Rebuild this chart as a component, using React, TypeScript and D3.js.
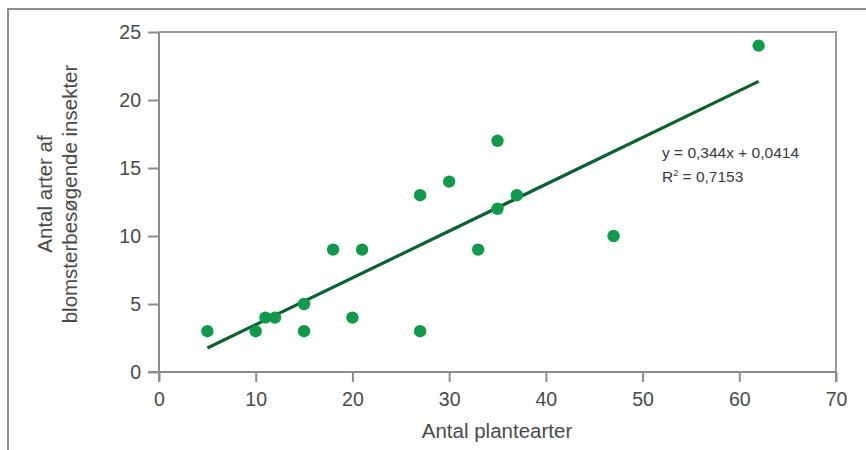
import React, { useEffect, useRef } from 'react';
import * as d3 from 'd3';

// plant species count vs. flower-visiting insect species count
const plantSpecies = [5, 10, 11, 12, 15, 15, 18, 20, 21, 27, 27, 30, 33, 35, 35, 37, 47, 62];
const insectSpecies = [3, 3, 4, 4, 5, 3, 9, 4, 9, 13, 3, 14, 9, 17, 12, 13, 10, 24];
const xTicks = [0, 10, 20, 30, 40, 50, 60, 70];
const yTicks = [0, 5, 10, 15, 20, 25];
const slope = 0.344;
const intercept = 0.0414;
const equationText = 'y = 0,344x + 0,0414';
const rSquaredText = '0,7153';

const FONT = 'Liberation Sans, Arial, sans-serif';

const App = () => {
  const xAxisRef = useRef<SVGGElement>(null);
  const yAxisRef = useRef<SVGGElement>(null);

  const margin = { top: 32, left: 159 };
  const width = 866;
  const height = 450;
  const innerW = 836 - margin.left;
  const innerH = 372 - margin.top;

  const x = d3.scaleLinear().domain([0, 70]).range([0, innerW]);
  const y = d3.scaleLinear().domain([0, 25]).range([innerH, 0]);

  const fitX = [d3.min(plantSpecies)!, d3.max(plantSpecies)!];
  const line = d3
    .line<number>()
    .x((d) => x(d))
    .y((d) => y(slope * d + intercept));

  useEffect(() => {
    const xg = d3.select(xAxisRef.current);
    xg.selectAll('*').remove();
    xg.call(d3.axisBottom(x).tickValues(xTicks).tickSize(10).tickPadding(10).tickSizeOuter(10));
    const yg = d3.select(yAxisRef.current);
    yg.selectAll('*').remove();
    yg.call(d3.axisLeft(y).tickValues(yTicks).tickSize(11).tickPadding(7).tickSizeOuter(0));
    [xg, yg].forEach((g) => {
      g.selectAll('path, line').attr('stroke', '#8c8c8c').attr('stroke-width', 2);
      g.selectAll('text')
        .attr('fill', '#4a4a4a')
        .style('font-family', FONT)
        .style('font-size', '19.5px');
    });
    // x axis line reaches left to meet the y ticks
    xg.select('.domain').attr('d', `M-11,0H${innerW}V10`);
    yg.select('.domain').attr('d', `M0,0V${innerH + 10}`);
  });

  return (
    <svg width={width} height={height} style={{ position: 'absolute', left: 0, top: 0 }}>
      <rect width={width} height={height} fill="#fff" />
      <path d={`M8,${height}V9H${width}`} fill="none" stroke="#6b6b6b" strokeWidth={1.5} />
      <g transform={`translate(${margin.left},${margin.top})`}>
        <path d={`M0,0H${innerW}V${innerH}`} fill="none" stroke="#9a9a9a" strokeWidth={2} />
        <g ref={yAxisRef} />
        <g ref={xAxisRef} transform={`translate(0,${innerH})`} />
        <path d={line(fitX) || ''} fill="none" stroke="#0b6130" strokeWidth={3.2} />
        {plantSpecies.map((p, i) => (
          <circle key={i} cx={x(p)} cy={y(insectSpecies[i])} r={6.2} fill="#0f9a4c" />
        ))}
        <text x={503} y={126} fontFamily={FONT} fontSize={15.5} fill="#3a3a3a">
          {equationText}
        </text>
        <text x={503} y={150} fontFamily={FONT} fontSize={15.5} fill="#3a3a3a">
          R<tspan fontSize={9} dy={-6}>2</tspan>
          <tspan dy={6}>{' = ' + rSquaredText}</tspan>
        </text>
      </g>
      <text x={497} y={438} textAnchor="middle" fontFamily={FONT} fontSize={20.5} fill="#4a4a4a">
        Antal plantearter
      </text>
      <g
        transform="translate(0,194) rotate(-90)"
        fontFamily={FONT}
        fontSize={20.5}
        fill="#4a4a4a"
        textAnchor="middle"
      >
        <text x={0} y={52}>Antal arter af</text>
        <text x={0} y={77}>blomsterbesøgende insekter</text>
      </g>
    </svg>
  );
};

export default App;
